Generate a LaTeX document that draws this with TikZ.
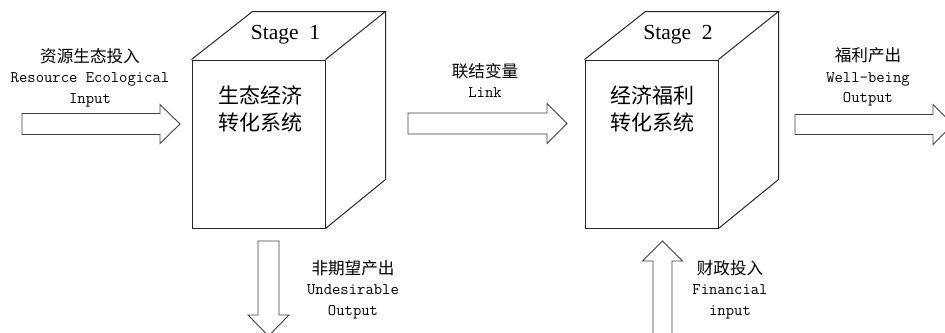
\documentclass[tikz,border=0pt]{standalone}
\usepackage{fontspec}
\setmainfont{Liberation Serif}
\newfontfamily\cjk{Noto Sans CJK SC}
\newfontfamily\monof{Latin Modern Mono}
\newcommand\harrow[6]{\draw[blockarrow] ({#1},{#4-#5}) -- ({#2},{#4-#5}) -- ({#2},{#4-#6}) -- ({#3},{#4}) -- ({#2},{#4+#6}) -- ({#2},{#4+#5}) -- ({#1},{#4+#5}) -- cycle;}
\newcommand\varrow[6]{\draw[blockarrow] ({#4-#5},{#1}) -- ({#4-#5},{#2}) -- ({#4-#6},{#2}) -- ({#4},{#3}) -- ({#4+#6},{#2}) -- ({#4+#5},{#2}) -- ({#4+#5},{#1}) -- cycle;}
\newcommand\lat[1]{{\monof\fontsize{16.2}{20.5}\selectfont #1}}
\tikzset{
  blockarrow/.style={draw=black!75, line width=0.9pt, fill=white, line join=miter},
  face/.style={draw=black!85, line width=1pt},
  frontface/.style={face, minimum width=133pt, minimum height=168pt, inner sep=0pt},
  stagetxt/.style={font=\fontsize{21.5}{24}\selectfont},
  systxt/.style={font=\cjk\fontsize{21}{27}\selectfont, align=center, inner sep=0pt},
  lbl/.style={font=\fontsize{16.6}{20.5}\selectfont, align=center, inner sep=0pt},
}
\begin{document}
\begin{tikzpicture}[x=1pt, y=-1pt]
\useasboundingbox (0,0) rectangle (945,332);
\clip (0,0) rectangle (945,332);
% cube 1
\node[frontface] (c1) at (258.5,144) {};
\draw[face] (c1.north west) -- ++(61,-48) coordinate (c1bl) -- ++(133,0) coordinate (c1br) -- (c1.north east);
\draw[face] (c1br) -- ++(0,168) coordinate (c1bb) -- (c1.south east);
\node[frontface, draw] at (c1) {};
\node[stagetxt] (s1) at (285.5,35) {Stage\ \ 1};
\node[systxt] (t1) at (260,108.5) {生态经济\\转化系统};
% cube 2
\node[frontface] (c2) at (651.5,144) {};
\draw[face] (c2.north west) -- ++(61,-48) coordinate (c2bl) -- ++(133,0) coordinate (c2br) -- (c2.north east);
\draw[face] (c2br) -- ++(0,168) coordinate (c2bb) -- (c2.south east);
\node[frontface, draw] at (c2) {};
\node[stagetxt] (s2) at (678,35) {Stage\ \ 2};
\node[systxt] (t2) at (652,108.5) {经济福利\\转化系统};
% arrows
\harrow{22}{160}{180}{124}{10.5}{19.5}
\harrow{408}{547}{567}{123.5}{10.5}{20}
\harrow{795}{933}{953}{124.5}{10}{20}
\varrow{241}{315}{336}{268.5}{10.5}{20.5}
\varrow{345}{261}{241}{662.5}{9.5}{20}
% labels
\node[lbl] (l1) at (90,77.5) {{\cjk 资源生态投入}\\\lat{Resource Ecological}\\\lat{Input}};
\node[lbl] (l2) at (485,80.5) {{\cjk 联结变量}\\\lat{Link}};
\node[lbl] (l3) at (868,77) {{\cjk 福利产出}\\\lat{Well-being}\\\lat{Output}};
\node[lbl] (l4) at (353,289.5) {{\cjk 非期望产出}\\\lat{Undesirable}\\\lat{Output}};
\node[lbl] (l5) at (730,289.5) {{\cjk 财政投入}\\\lat{Financial}\\\lat{input}};
\end{tikzpicture}
\end{document}
